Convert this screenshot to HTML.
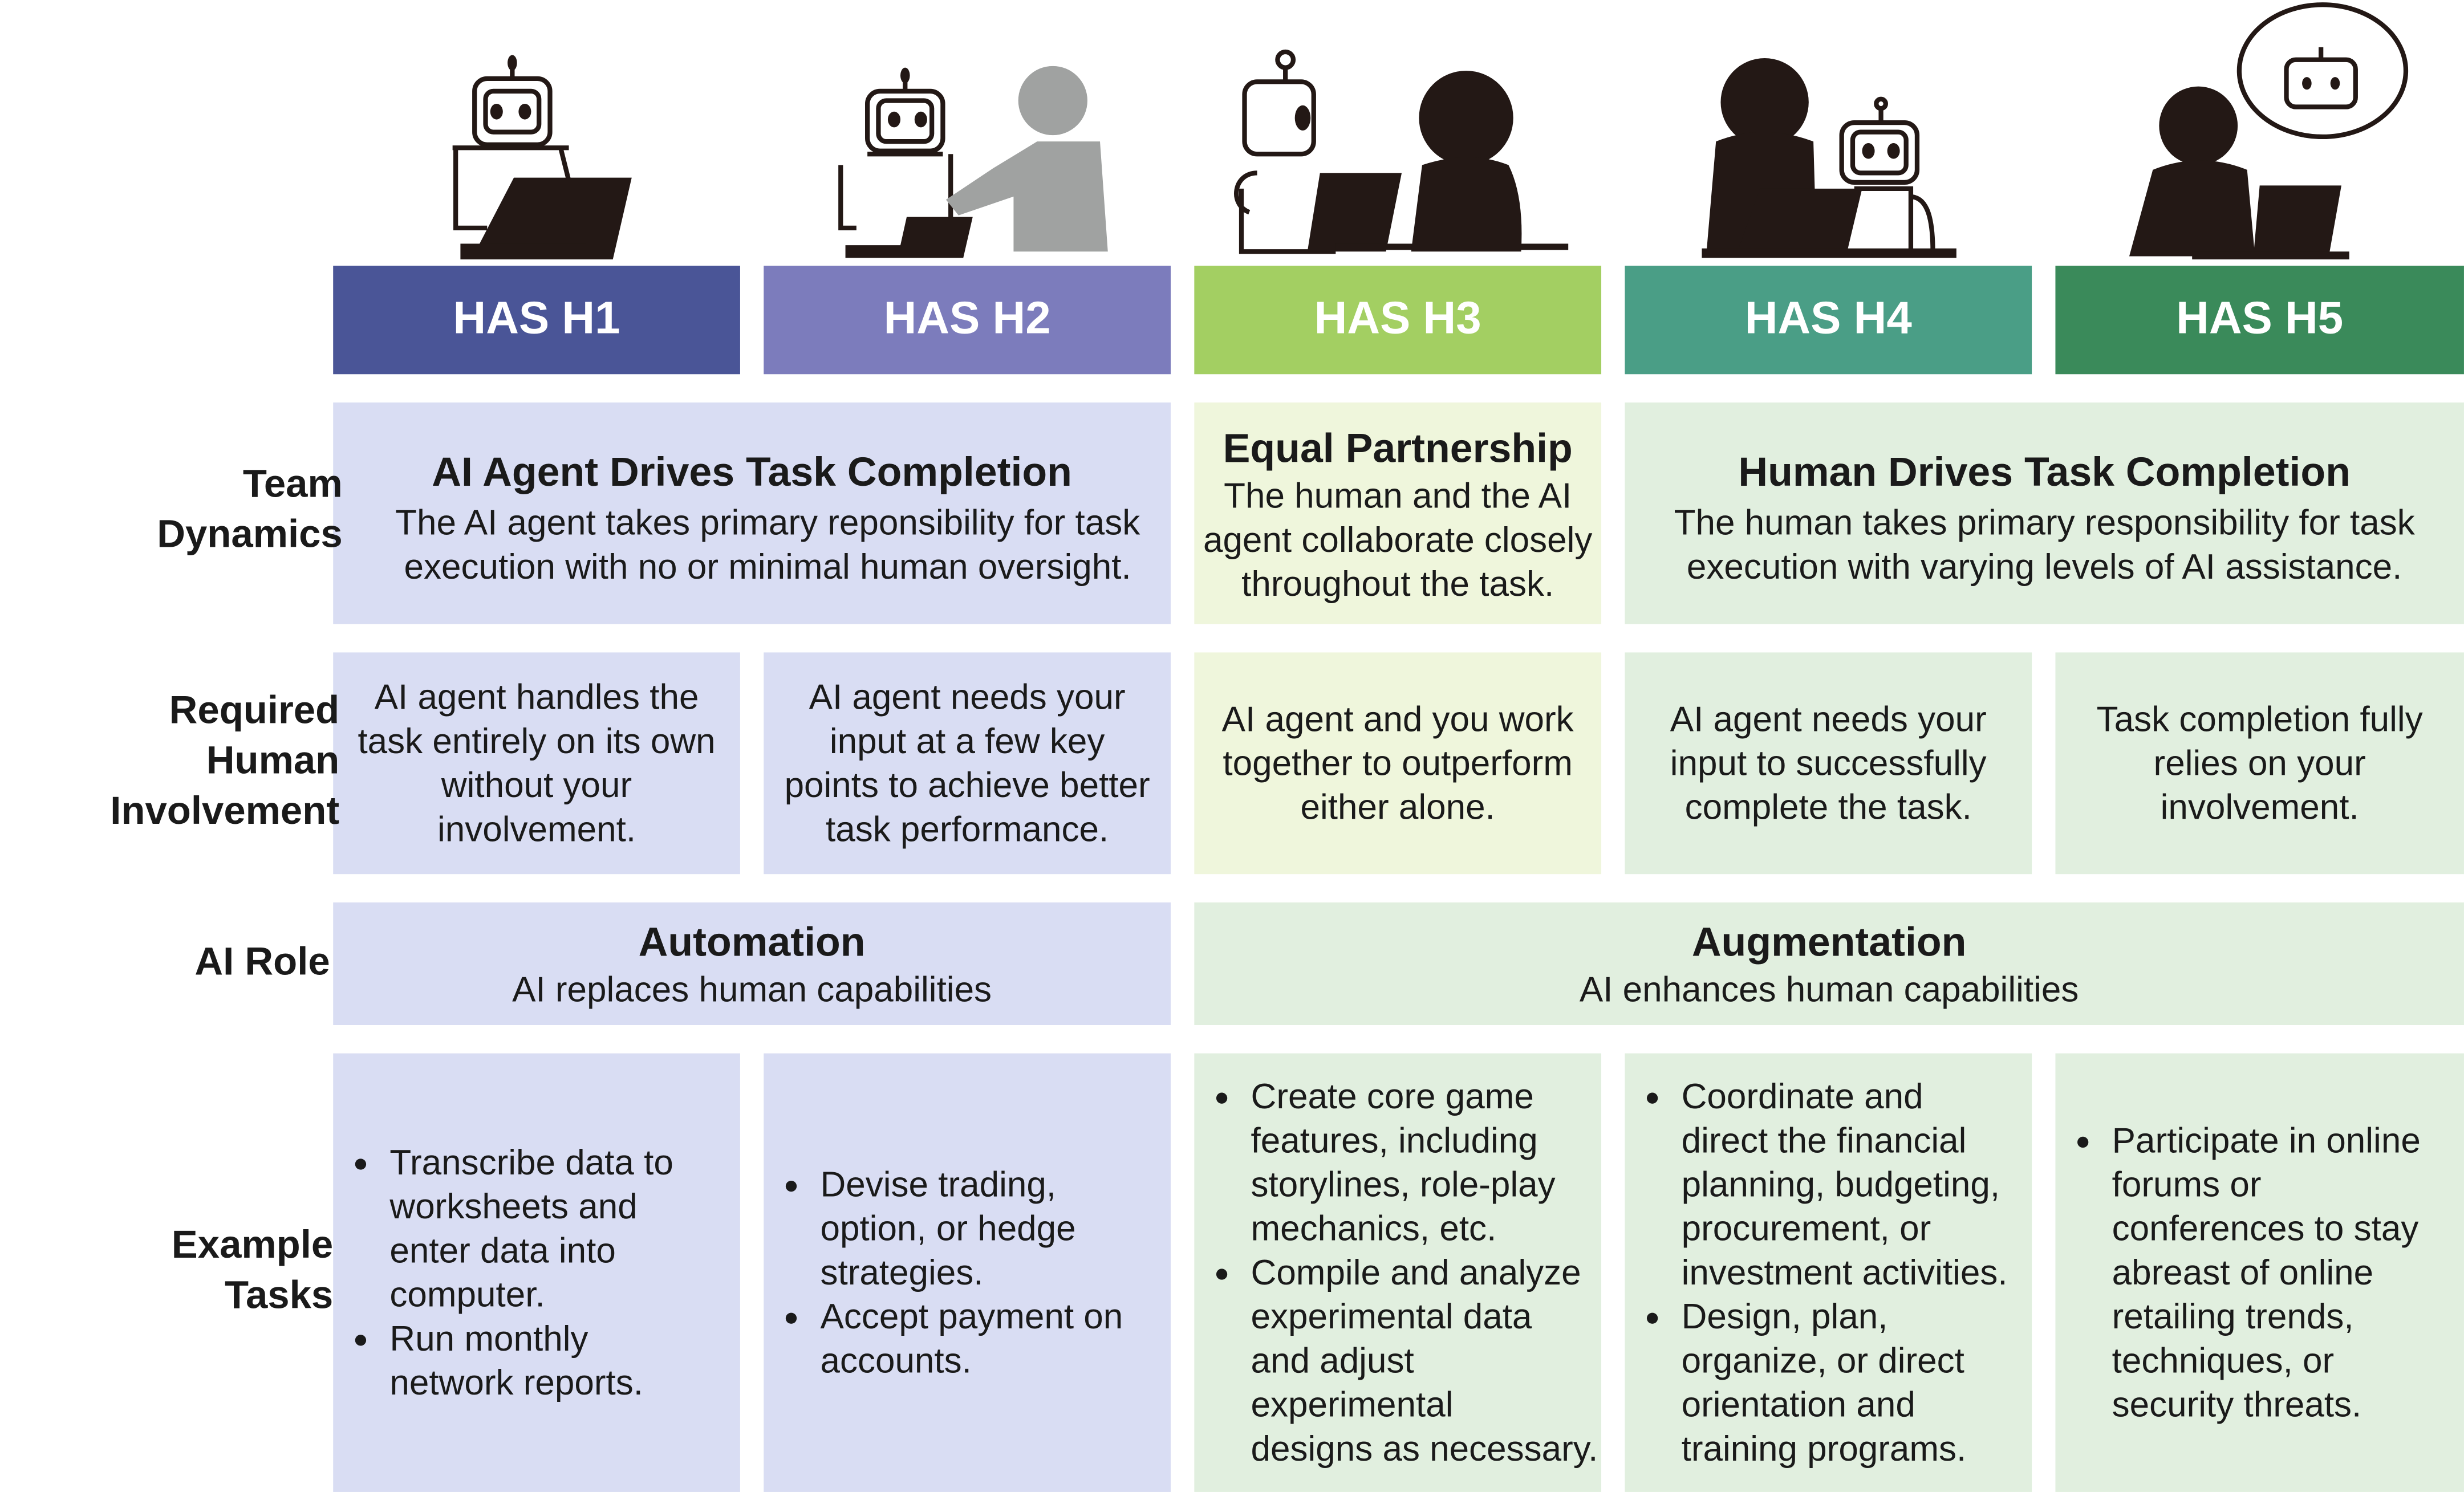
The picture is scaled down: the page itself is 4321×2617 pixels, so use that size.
<!DOCTYPE html>
<html><head><meta charset="utf-8"><style>
html,body{margin:0;padding:0;background:#fff;}
body{width:4321px;height:2617px;overflow:hidden;}
#w{position:absolute;left:0;top:0;width:1568px;height:949px;transform:scale(2.7557,2.7576);transform-origin:0 0;font-family:"Liberation Sans",sans-serif;color:#1a1a1a;}
.b{position:absolute;box-sizing:border-box;}
.h{color:#fff;font-weight:bold;font-size:29px;display:flex;align-items:center;justify-content:center;}
.p{background:#d9ddf3}.y{background:#eff6dc}.g{background:#e1efdf}
.c{display:flex;flex-direction:column;align-items:center;justify-content:center;text-align:center;font-size:22.5px;line-height:28px;white-space:nowrap;}
.t{font-weight:bold;font-size:26px;line-height:34px;}
.l{position:absolute;font-weight:bold;font-size:25px;line-height:32px;text-align:right;z-index:5;white-space:nowrap;}
ul{margin:0;padding-left:34px;font-size:22.5px;line-height:28px;text-align:left;}
li{padding-left:2px;}
</style></head><body><div id="w">
<svg class="b" style="left:0;top:0" width="1568" height="169" viewBox="0 0 1568 169">
<g fill="none" stroke="#231815" stroke-width="3">
<rect x="302" y="50" width="48" height="42" rx="8"/><rect x="309" y="58" width="34" height="26" rx="5"/>
<line x1="326" y1="50" x2="326" y2="42"/><path d="M288 94h74M290 95v50h20M357 95l5 20"/>
<rect x="552" y="58" width="48" height="38" rx="8"/><rect x="559" y="64" width="34" height="26" rx="5"/>
<line x1="576" y1="58" x2="576" y2="50"/><path d="M535 105v40h10M552 98h48M605 98v60"/>
<rect x="792" y="52" width="44" height="46" rx="8"/><circle cx="818" cy="38" r="5"/>
<line x1="818" y1="43" x2="818" y2="52"/><path d="M790 120v40h60M800 110c-15 0-18 20-5 25"/>
<rect x="1172" y="78" width="48" height="38" rx="8"/><rect x="1179" y="84" width="34" height="26" rx="5"/>
<line x1="1197" y1="78" x2="1197" y2="68"/><circle cx="1197" cy="66" r="3"/><path d="M1180 120h36v40M1215 125c10 0 15 10 15 35"/>
<ellipse cx="1478" cy="45" rx="53" ry="42"/><rect x="1455" y="38" width="44" height="30" rx="6"/>
<line x1="1477" y1="38" x2="1477" y2="30"/>
</g>
<g fill="#231815">
<ellipse cx="326" cy="40" rx="3" ry="5"/><ellipse cx="316" cy="71" rx="4" ry="5"/><ellipse cx="334" cy="71" rx="4" ry="5"/>
<path d="M327 113h75l-12 52h-90z"/><rect x="293" y="155" width="80" height="10"/>
<ellipse cx="576" cy="48" rx="3" ry="5"/><ellipse cx="569" cy="76" rx="4" ry="5"/><ellipse cx="586" cy="76" rx="4" ry="5"/>
<path d="M577 138h42l-6 26h-75v-8h35z"/>
<ellipse cx="829" cy="75" rx="5" ry="8"/>
<path d="M840 110h52l-10 50h-50z"/><rect x="850" y="155" width="148" height="4"/>
<circle cx="933" cy="75" r="30"/><path d="M905 105q30-10 55 0q10 20 8 55h-70z"/>
<ellipse cx="1189" cy="96" rx="4" ry="5"/><ellipse cx="1205" cy="96" rx="4" ry="5"/>
<circle cx="1123" cy="65" r="28"/><path d="M1092 90q30-12 62 0l2 70h-70z"/>
<path d="M1120 120h65l-10 42h-70z"/><rect x="1083" y="158" width="162" height="6"/>
<circle cx="1399" cy="80" r="25"/><path d="M1370 108q30-12 60 0l5 55h-80z"/>
<path d="M1438 118h52l-8 45h-48z"/><rect x="1395" y="160" width="100" height="5"/>
<ellipse cx="1468" cy="53" rx="3" ry="4"/><ellipse cx="1486" cy="53" rx="3" ry="4"/>
</g>
<g fill="#a0a2a1"><circle cx="670" cy="64" r="22"/><path d="M660 90h40l5 70h-60v-35l-35 12-8-10 30-20z"/></g>
</svg>
<div class="b h" style="left:212px;top:169px;width:259px;height:69px;background:#4a5597">HAS H1</div>
<div class="b h" style="left:486px;top:169px;width:259px;height:69px;background:#7c7cbc">HAS H2</div>
<div class="b h" style="left:760px;top:169px;width:259px;height:69px;background:#a3cf62">HAS H3</div>
<div class="b h" style="left:1034px;top:169px;width:259px;height:69px;background:#4a9e86">HAS H4</div>
<div class="b h" style="left:1308px;top:169px;width:260px;height:69px;background:#3a8a5a">HAS H5</div>

<div class="b c p" style="left:212px;top:256px;width:533px;height:141px;padding-top:4px"><div class="t" style="margin-bottom:2px">AI Agent Drives Task Completion</div><div style="margin-left:20px">The AI agent takes primary reponsibility for task<br>execution with no or minimal human oversight.</div></div>
<div class="b c y" style="left:760px;top:256px;width:259px;height:141px;"><div class="t">Equal Partnership</div><div>The human and the AI<br>agent collaborate closely<br>throughout the task.</div></div>
<div class="b c g" style="left:1034px;top:256px;width:534px;height:141px;padding-top:4px"><div class="t" style="margin-bottom:2px">Human Drives Task Completion</div><div>The human takes primary responsibility for task<br>execution with varying levels of AI assistance.</div></div>

<div class="b c p" style="left:212px;top:415px;width:259px;height:141px">AI agent handles the<br>task entirely on its own<br>without your<br>involvement.</div>
<div class="b c p" style="left:486px;top:415px;width:259px;height:141px">AI agent needs your<br>input at a few key<br>points to achieve better<br>task performance.</div>
<div class="b c y" style="left:760px;top:415px;width:259px;height:141px">AI agent and you work<br>together to outperform<br>either alone.</div>
<div class="b c g" style="left:1034px;top:415px;width:259px;height:141px">AI agent needs your<br>input to successfully<br>complete the task.</div>
<div class="b c g" style="left:1308px;top:415px;width:260px;height:141px">Task completion fully<br>relies on your<br>involvement.</div>

<div class="b c p" style="left:212px;top:574px;width:533px;height:78px"><div class="t">Automation</div><div>AI replaces human capabilities</div></div>
<div class="b c g" style="left:760px;top:574px;width:808px;height:78px"><div class="t">Augmentation</div><div>AI enhances human capabilities</div></div>

<div class="b c p" style="left:212px;top:670px;width:259px;height:279px;align-items:flex-start"><ul><li>Transcribe data to<br>worksheets and<br>enter data into<br>computer.</li><li>Run monthly<br>network reports.</li></ul></div>
<div class="b c p" style="left:486px;top:670px;width:259px;height:279px;align-items:flex-start"><ul><li>Devise trading,<br>option, or hedge<br>strategies.</li><li>Accept payment on<br>accounts.</li></ul></div>
<div class="b c g" style="left:760px;top:670px;width:259px;height:279px;align-items:flex-start"><ul><li>Create core game<br>features, including<br>storylines, role-play<br>mechanics, etc.</li><li>Compile and analyze<br>experimental data<br>and adjust<br>experimental<br>designs as necessary.</li></ul></div>
<div class="b c g" style="left:1034px;top:670px;width:259px;height:279px;align-items:flex-start"><ul><li>Coordinate and<br>direct the financial<br>planning, budgeting,<br>procurement, or<br>investment activities.</li><li>Design, plan,<br>organize, or direct<br>orientation and<br>training programs.</li></ul></div>
<div class="b c g" style="left:1308px;top:670px;width:260px;height:279px;align-items:flex-start"><ul><li>Participate in online<br>forums or<br>conferences to stay<br>abreast of online<br>retailing trends,<br>techniques, or<br>security threats.</li></ul></div>

<div class="l" style="right:1350px;top:292px">Team<br>Dynamics</div>
<div class="l" style="right:1352px;top:436px">Required<br>Human<br>Involvement</div>
<div class="l" style="right:1358px;top:596px">AI Role</div>
<div class="l" style="right:1356px;top:776px">Example<br>Tasks</div>
</div></body></html>
